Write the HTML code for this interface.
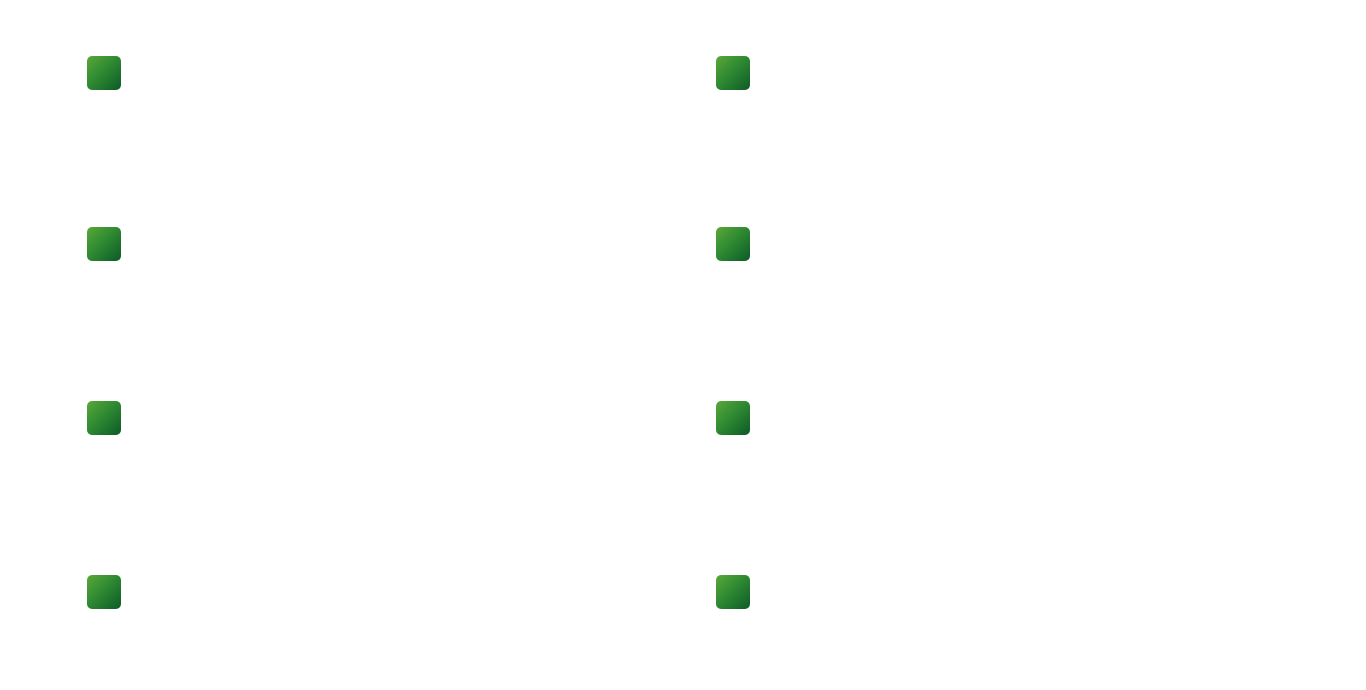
<!DOCTYPE html>
<html><head><meta charset="utf-8"><style>
html,body{margin:0;padding:0;background:#fff;width:1366px;height:690px;overflow:hidden;position:relative}
.s{position:absolute;width:34px;height:34px;border-radius:5px;background:linear-gradient(135deg,#5ba838 0%,#2f8a32 45%,#0d5a28 100%)}
</style></head><body>
<div class="s" style="left:87px;top:56px"></div>
<div class="s" style="left:716px;top:56px"></div>
<div class="s" style="left:87px;top:227px"></div>
<div class="s" style="left:716px;top:227px"></div>
<div class="s" style="left:87px;top:401px"></div>
<div class="s" style="left:716px;top:401px"></div>
<div class="s" style="left:87px;top:575px"></div>
<div class="s" style="left:716px;top:575px"></div>
</body></html>
